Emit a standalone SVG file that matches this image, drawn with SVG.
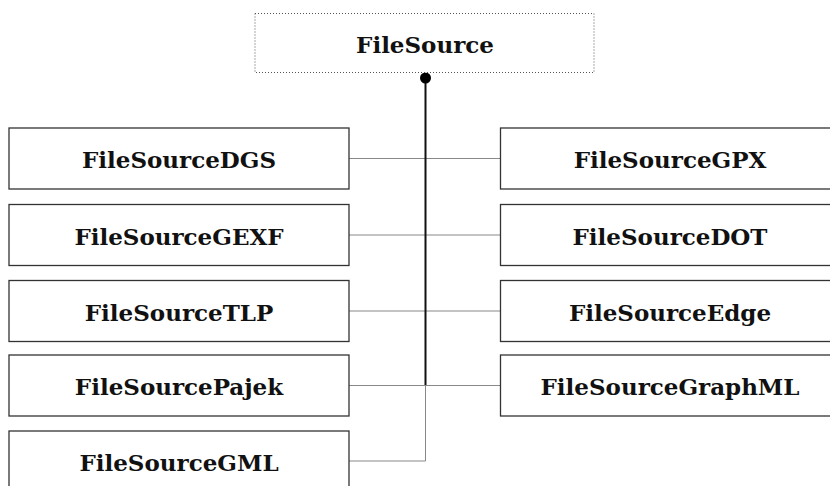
<svg xmlns="http://www.w3.org/2000/svg" width="830" height="486" viewBox="0 0 830 486">
<style>
.box{fill:#fff;stroke:#333;stroke-width:1.3}
.lbl{font-family:"DejaVu Serif","Liberation Serif",serif;font-weight:bold;font-size:23px;fill:#111;text-anchor:middle}
.c{fill:none;stroke:#888;stroke-width:1}
</style>
<rect width="830" height="486" fill="#fff"/>
<g id="connectors">
<line class="c" x1="349" y1="158.5" x2="500.5" y2="158.5"/>
<line class="c" x1="349" y1="235" x2="500.5" y2="235"/>
<line class="c" x1="349" y1="311" x2="500.5" y2="311"/>
<line class="c" x1="349" y1="385.5" x2="500.5" y2="385.5"/>
<polyline class="c" points="349,461 425.5,461 425.5,385"/>
<line x1="425.5" y1="78" x2="425.5" y2="385" stroke="#111" stroke-width="2"/>
<circle cx="425.5" cy="78" r="5.5" fill="#000"/>
</g>
<g id="FileSource">
<rect x="255" y="13.5" width="339" height="59" fill="#fff" stroke="#555" stroke-width="1" stroke-dasharray="1,2"/>
<text class="lbl" x="425" y="53">FileSource</text>
</g>
<g id="FileSourceDGS"><rect class="box" x="9" y="128" width="340" height="61"/><text class="lbl" x="179" y="168">FileSourceDGS</text></g>
<g id="FileSourceGEXF"><rect class="box" x="9" y="204.5" width="340" height="61"/><text class="lbl" x="179" y="244.5">FileSourceGEXF</text></g>
<g id="FileSourceTLP"><rect class="box" x="9" y="280.5" width="340" height="61"/><text class="lbl" x="179" y="320.5">FileSourceTLP</text></g>
<g id="FileSourcePajek"><rect class="box" x="9" y="355" width="340" height="61"/><text class="lbl" x="179" y="395">FileSourcePajek</text></g>
<g id="FileSourceGML"><rect class="box" x="9" y="431" width="340" height="70"/><text class="lbl" x="179" y="471">FileSourceGML</text></g>
<g id="FileSourceGPX"><rect class="box" x="500.5" y="128" width="340" height="61"/><text class="lbl" x="670" y="168">FileSourceGPX</text></g>
<g id="FileSourceDOT"><rect class="box" x="500.5" y="204.5" width="340" height="61"/><text class="lbl" x="670" y="244.5">FileSourceDOT</text></g>
<g id="FileSourceEdge"><rect class="box" x="500.5" y="280.5" width="340" height="61"/><text class="lbl" x="670" y="320.5">FileSourceEdge</text></g>
<g id="FileSourceGraphML"><rect class="box" x="500.5" y="355" width="340" height="61"/><text class="lbl" x="670" y="395">FileSourceGraphML</text></g>
</svg>
